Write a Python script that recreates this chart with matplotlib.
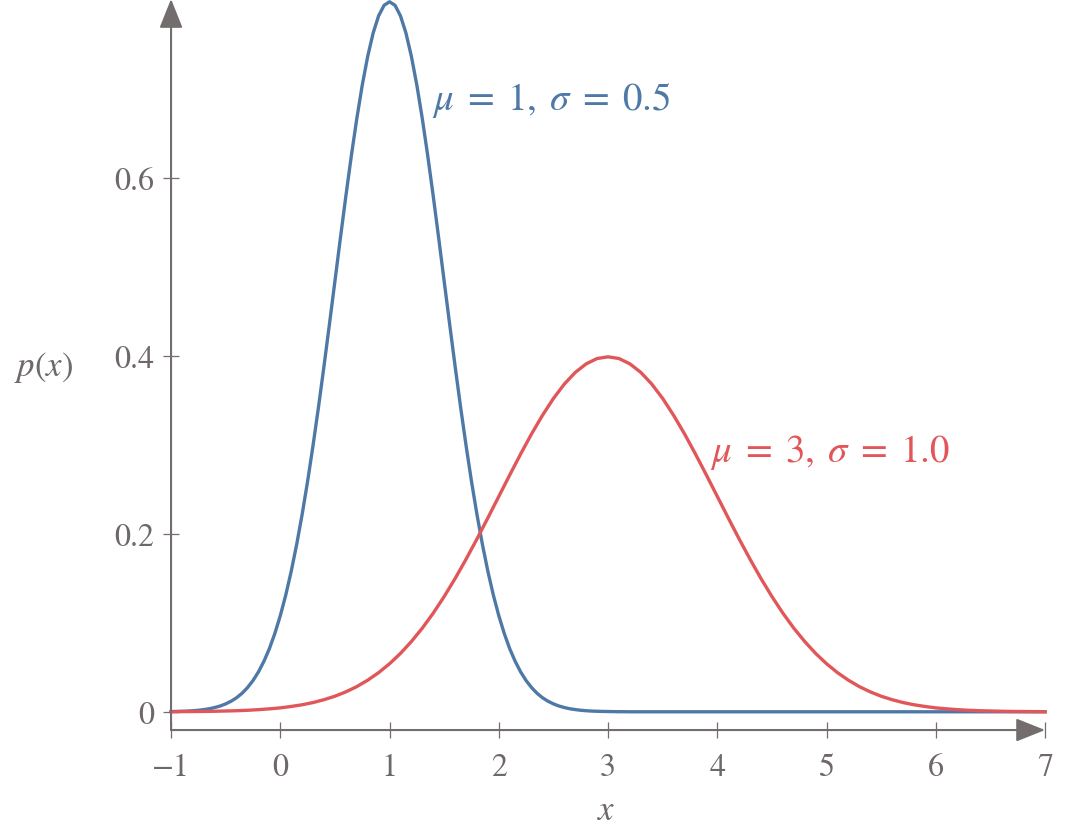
import numpy as np
import matplotlib
matplotlib.use("Agg")
import matplotlib.pyplot as plt

plt.rcParams['font.family'] = ['STIXGeneral', 'DejaVu Serif']
plt.rcParams['mathtext.fontset'] = 'stix'

# blue curve (mu=1, sigma=0.5): x samples and p(x)
blue_x = list(np.round(np.arange(-1, 3.2001, 0.05), 2)) + [7.0]
blue_vals = [0.0003, 0.0004, 0.0006, 0.0008, 0.0012, 0.0017, 0.0025, 0.0034, 0.0048, 0.0065,
             0.0089, 0.0119, 0.0158, 0.0208, 0.0272, 0.0351, 0.0448, 0.0567, 0.0709, 0.0880,
             0.1080, 0.1312, 0.1579, 0.1881, 0.2218, 0.2590, 0.2995, 0.3427, 0.3884, 0.4357,
             0.4839, 0.5322, 0.5794, 0.6245, 0.6664, 0.7041, 0.7365, 0.7628, 0.7821, 0.7939,
             0.7979,
             0.7939, 0.7821, 0.7628, 0.7365, 0.7041, 0.6664, 0.6245, 0.5794, 0.5322, 0.4839,
             0.4357, 0.3884, 0.3427, 0.2995, 0.2590, 0.2218, 0.1881, 0.1579, 0.1312, 0.1080,
             0.0880, 0.0709, 0.0567, 0.0448, 0.0351, 0.0272, 0.0208, 0.0158, 0.0119, 0.0089,
             0.0065, 0.0048, 0.0034, 0.0025, 0.0017, 0.0012, 0.0008, 0.0006, 0.0004, 0.0003,
             0.0002, 0.0001, 0.0001, 0.0, 0.0]

# red curve (mu=3, sigma=1.0)
red_x = np.linspace(-1, 7, 81)
red_vals = [0.0001, 0.0002, 0.0003, 0.0004, 0.0006, 0.0009, 0.0012, 0.0017, 0.0024, 0.0033,
            0.0044, 0.0060, 0.0079, 0.0104, 0.0136, 0.0175, 0.0224, 0.0283, 0.0355, 0.0440,
            0.0540, 0.0656, 0.0790, 0.0940, 0.1109, 0.1295, 0.1497, 0.1714, 0.1942, 0.2179,
            0.2420, 0.2661, 0.2897, 0.3123, 0.3332, 0.3521, 0.3683, 0.3814, 0.3910, 0.3970,
            0.3989,
            0.3970, 0.3910, 0.3814, 0.3683, 0.3521, 0.3332, 0.3123, 0.2897, 0.2661, 0.2420,
            0.2179, 0.1942, 0.1714, 0.1497, 0.1295, 0.1109, 0.0940, 0.0790, 0.0656, 0.0540,
            0.0440, 0.0355, 0.0283, 0.0224, 0.0175, 0.0136, 0.0104, 0.0079, 0.0060, 0.0044,
            0.0033, 0.0024, 0.0017, 0.0012, 0.0009, 0.0006, 0.0004, 0.0003, 0.0002, 0.0001]

x_ticks = [-1, 0, 1, 2, 3, 4, 5, 6, 7]
y_ticks = [0, 0.2, 0.4, 0.6]
y_tick_labels = ['0', '0.2', '0.4', '0.6']

blue = '#4e79a7'
red = '#e15759'
grey = '#736d6d'
text_grey = '#6e6868'

fig = plt.figure(figsize=(10.69, 8.37), dpi=100)
ax = fig.add_axes([0.16, 0.1266, 0.8176, 0.8734])

ax.plot(blue_x, blue_vals, color=blue, lw=2.4, clip_on=False, zorder=3,
        solid_joinstyle='round')
ax.plot(red_x, red_vals, color=red, lw=2.4, clip_on=False, zorder=3,
        solid_joinstyle='round')

ax.set_xlim(-1, 7)
ax.set_ylim(-0.0205, 0.801)

for s in ax.spines.values():
    s.set_visible(False)

# axis lines with arrow heads
arrow = dict(arrowstyle='-|>,head_length=0.9,head_width=0.36', color=grey, lw=1.5,
             mutation_scale=20, shrinkA=0, shrinkB=0)
ax.annotate('', xy=(1, 0), xytext=(0, 0), xycoords='axes fraction',
            arrowprops=arrow, annotation_clip=False)
ax.annotate('', xy=(0, 1), xytext=(0, 0), xycoords='axes fraction',
            arrowprops=arrow, annotation_clip=False)

ax.set_xticks(x_ticks)
ax.set_yticks(y_ticks)
ax.set_yticklabels(y_tick_labels)
ax.tick_params(direction='inout', length=12, width=0.9, color=grey,
               labelcolor=text_grey, labelsize=23)
ax.tick_params(axis='x', pad=10)
ax.tick_params(axis='y', pad=6)

ax.set_xlabel('$x$', fontsize=25, color=text_grey, va='center')
ax.xaxis.set_label_coords(0.498, -0.111)
ax.set_ylabel('$p(x)$', fontsize=25, color=text_grey, rotation=0, ha='center', va='center')
ax.yaxis.set_label_coords(-0.146, 0.497)

ax.text(1.39, 0.689, r'$\mu\;=\;1,\;\sigma\;=\;0.5$', color=blue, fontsize=28, va='center')
ax.text(3.93, 0.293, r'$\mu\;=\;3,\;\sigma\;=\;1.0$', color=red, fontsize=28, va='center')

fig.savefig('out.png', dpi=100)
